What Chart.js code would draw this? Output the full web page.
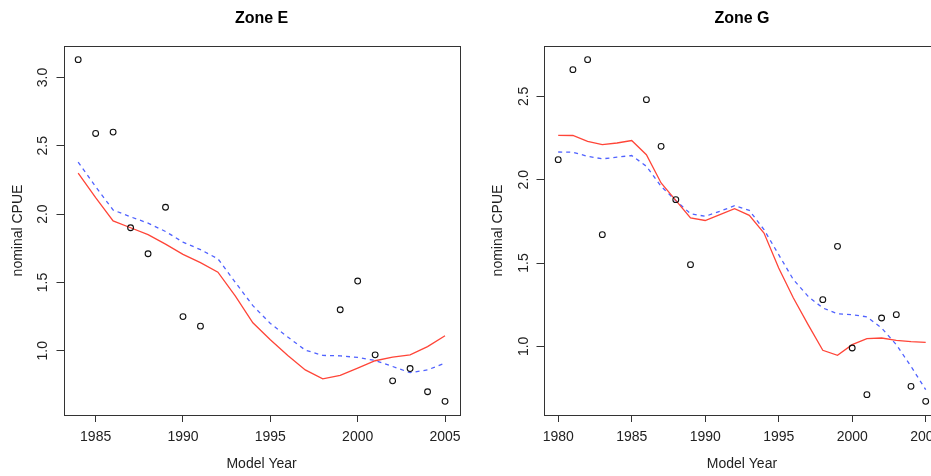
<!DOCTYPE html>
<html>
<head>
<meta charset="utf-8">
<script src="https://cdn.jsdelivr.net/npm/chart.js@4/dist/chart.umd.min.js"></script>
<style>
html,body{margin:0;padding:0;background:#fff;overflow:hidden;width:931px;height:476px;}
canvas{position:absolute;top:0;}
#cE{left:0;}
#cG{left:470px;}
</style>
</head>
<body>
<canvas id="cE" width="470" height="476"></canvas>
<canvas id="cG" width="480" height="476"></canvas>
<script>
// ---------- Zone E ----------
const yearsE = [1984,1985,1986,1987,1988,1989,1990,1991,1992,1993,1994,1995,1996,1997,1998,1999,2000,2001,2002,2003,2004,2005];
const obsE   = [3.13,2.59,2.60,1.90,1.71,2.05,1.25,1.18,null,null,null,null,null,null,null,1.30,1.51,0.97,0.78,0.87,0.70,0.63];
const redE   = [2.30,2.12,1.95,1.90,1.85,1.78,1.705,1.645,1.575,1.40,1.205,1.08,0.965,0.86,0.795,0.82,0.873,0.927,0.954,0.97,1.03,1.11];
const blueE  = [2.38,2.20,2.03,1.98,1.934,1.873,1.795,1.74,1.673,1.50,1.33,1.20,1.10,1.005,0.966,0.963,0.951,0.929,0.885,0.84,0.86,0.91];
const xTicksE = [1985,1990,1995,2000,2005];
const yTicksE = [1.0,1.5,2.0,2.5,3.0];

// ---------- Zone G ----------
const yearsG = [1980,1981,1982,1983,1984,1985,1986,1987,1988,1989,1990,1991,1992,1993,1994,1995,1996,1997,1998,1999,2000,2001,2002,2003,2004,2005];
const obsG   = [2.12,2.66,2.72,1.67,null,null,2.48,2.20,1.88,1.49,null,null,null,null,null,null,null,null,1.28,1.60,0.99,0.71,1.17,1.19,0.76,0.67];
const redG   = [2.266,2.265,2.23,2.21,2.22,2.235,2.15,1.98,1.876,1.77,1.755,1.79,1.826,1.786,1.68,1.47,1.29,1.13,0.976,0.946,1.01,1.046,1.05,1.036,1.028,1.024];
const blueG  = [2.166,2.165,2.14,2.125,2.135,2.145,2.08,1.96,1.874,1.796,1.78,1.81,1.844,1.816,1.70,1.55,1.40,1.30,1.23,1.195,1.19,1.177,1.11,1.01,0.88,0.74];
const xTicksG = [1980,1985,1990,1995,2000,2005];
const yTicksG = [1.0,1.5,2.0,2.5];

const FONT = "'Liberation Sans', Arial, Helvetica, sans-serif";

function rRange(vals){
  const v = vals.filter(a => a !== null);
  const lo = Math.min(...v), hi = Math.max(...v);
  const e = (hi - lo) * 0.04;
  return [lo - e, hi + e];
}
function pts(xs, ys){
  const out = [];
  xs.forEach((x,i) => { if (ys[i] !== null) out.push({x:x, y:ys[i]}); });
  return out;
}

const boxPlugin = {
  id: 'rbox',
  afterDraw(chart){
    const a = chart.chartArea, ctx = chart.ctx;
    ctx.save();
    ctx.strokeStyle = '#333';
    ctx.lineWidth = 1;
    ctx.strokeRect(Math.round(a.left)+0.5, Math.round(a.top)+0.5, Math.round(a.right-a.left), Math.round(a.bottom-a.top));
    ctx.restore();
  }
};

function makeChart(id, title, years, obs, red, blue, xTicks, yTicks, cfg){
  const xr = rRange(years);
  const yr = rRange(obs.concat(red, blue));
  return new Chart(document.getElementById(id), {
    type: 'scatter',
    data: {
      datasets: [
        {data: pts(years, obs), showLine: false, pointRadius: 2.9, pointStyle: 'circle',
         pointBackgroundColor: 'rgba(0,0,0,0)', borderColor: '#111', pointBorderWidth: 1.1, pointHoverRadius: 2.9},
        {data: pts(years, red), showLine: true, pointRadius: 0, borderColor: '#ff4538', borderWidth: 1.3, tension: 0, fill: false},
        {data: pts(years, blue), showLine: true, pointRadius: 0, borderColor: '#5062ff', borderWidth: 1.3, borderDash: [4,4], tension: 0, fill: false}
      ]
    },
    options: {
      responsive: false,
      animation: false,
      events: [],
      layout: {padding: {left: 0, right: cfg.padRight, top: 0, bottom: 0}},
      plugins: {
        legend: {display: false},
        tooltip: {enabled: false},
        title: {display: true, text: title, fullSize: false, color: '#000',
                font: {family: FONT, size: 16, weight: 'bold', lineHeight: 1.2},
                padding: {top: 9.4, bottom: 17.4}}
      },
      scales: {
        x: {
          type: 'linear', min: xr[0], max: xr[1],
          afterBuildTicks: s => { s.ticks = xTicks.map(v => ({value: v})); },
          afterFit: s => { s.height = 61; },
          ticks: {autoSkip: false, maxRotation: 0, minRotation: 0, color: '#222', padding: 7,
                  font: {family: FONT, size: 14}, callback: v => String(v)},
          grid: {drawOnChartArea: false, drawTicks: true, tickLength: 7, color: '#333', lineWidth: 1},
          border: {display: false},
          title: {display: true, text: 'Model Year', color: '#222',
                  font: {family: FONT, size: 14, lineHeight: 1.2}, padding: {top: 0, bottom: 3.6}}
        },
        y: {
          type: 'linear', min: yr[0], max: yr[1],
          afterBuildTicks: s => { s.ticks = yTicks.map(v => ({value: v})); },
          afterFit: s => { s.width = cfg.yWidth; },
          ticks: {autoSkip: false, minRotation: 90, maxRotation: 90, crossAlign: 'center', color: '#222',
                  padding: cfg.yTickPad, font: {family: FONT, size: 14}, callback: v => Number(v).toFixed(1)},
          grid: {drawOnChartArea: false, drawTicks: true, tickLength: 7, color: '#333', lineWidth: 1},
          border: {display: false},
          title: {display: true, text: 'nominal CPUE', color: '#222',
                  font: {family: FONT, size: 14, lineHeight: 1.2}, padding: {top: cfg.yTitlePad, bottom: 0}}
        }
      }
    },
    plugins: [boxPlugin]
  });
}

makeChart('cE', 'Zone E', yearsE, obsE, redE, blueE, xTicksE, yTicksE,
          {padRight: 10.3, yWidth: 63.5, yTickPad: 3.8, yTitlePad: 10});
makeChart('cG', 'Zone G', yearsG, obsG, redG, blueG, xTicksG, yTicksG,
          {padRight: 9.6, yWidth: 73.5, yTickPad: 2.3, yTitlePad: 19.6});
</script>
</body>
</html>
